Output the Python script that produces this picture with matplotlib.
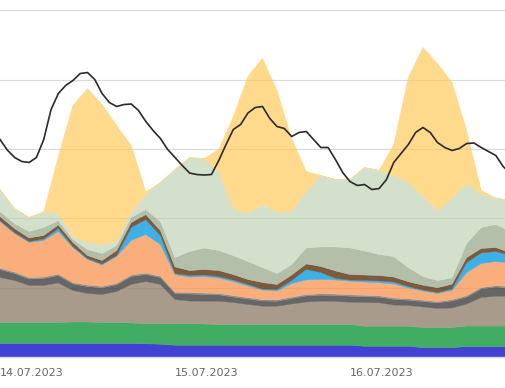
import numpy as np
import matplotlib
matplotlib.use('Agg')
import matplotlib.pyplot as plt

# Stromerzeugung 14.07.-16.07.2023, GW, 2-Stunden-Raster (Stunden ab 14.07. 00:00)
hours = np.arange(0, 72, 2)
hours_load = np.arange(0, 71)

wasserkraft = [1.95, 1.95, 1.95, 1.95, 1.95, 1.95, 1.95, 1.95, 1.95, 1.95, 1.9, 1.85,
               1.7, 1.7, 1.7, 1.7, 1.7, 1.7, 1.7, 1.7, 1.7, 1.7, 1.7, 1.7,
               1.7, 1.55, 1.55, 1.55, 1.55, 1.35, 1.35, 1.35, 1.5, 1.5, 1.5, 1.5]
biomasse = [3.03, 3.03, 3.03, 3.03, 3.03, 3.1, 3.1, 3.03, 3.03, 2.96, 2.93, 2.98,
            3.13, 3.13, 3.06, 2.99, 2.99, 2.99, 2.99, 2.99, 2.99, 2.99, 2.99, 2.99,
            2.99, 2.89, 2.89, 2.89, 2.89, 2.91, 2.91, 2.91, 2.97, 2.97, 2.97, 2.97]
braunkohle = [6.49, 6.06, 5.34, 5.34, 5.70, 4.55, 4.11, 4.04, 4.47, 5.56, 6.06, 5.63,
              3.46, 3.25, 3.29, 3.36, 3.17, 2.89, 2.64, 2.64, 2.96, 3.25, 3.36, 3.32,
              3.22, 3.42, 3.38, 3.06, 2.99, 2.96, 2.74, 2.81, 3.17, 4.11, 4.30, 4.30]
steinkohle = [1.15, 1.01, 0.94, 1.01, 1.08, 0.94, 1.01, 0.97, 0.97, 1.15, 1.01, 1.01,
              0.87, 1.01, 0.97, 0.92, 0.79, 0.79, 0.75, 0.72, 0.79, 0.87, 0.87, 0.87,
              0.87, 0.84, 0.81, 0.82, 0.76, 0.79, 0.79, 1.01, 1.01, 1.23, 1.33, 1.18]
oel = [0.2] * 36
erdgas = [6.73, 5.57, 5.07, 5.28, 6.15, 5.07, 3.70, 3.09, 3.88, 4.99, 5.57, 4.56,
          2.54, 2.25, 2.40, 2.22, 2.04, 1.68, 1.39, 1.27, 1.96, 2.11, 2.07, 2.04,
          1.96, 1.92, 1.88, 2.01, 1.59, 1.32, 1.17, 1.32, 3.34, 3.48, 3.48, 3.41]
pumpspeicher = [0.14, 0.14, 0.14, 0.22, 0.43, 0.14, 0.14, 0.14, 0.14, 1.88, 2.16, 1.30,
                0.14, 0.22, 0.22, 0.22, 0.22, 0.22, 0.14, 0.22, 0.43, 1.52, 1.01, 0.22,
                0.17, 0.22, 0.26, 0.29, 0.19, 0.14, 0.14, 0.22, 1.44, 1.52, 1.44, 1.08]
sonstige = [0.58, 0.58, 0.51, 0.51, 0.51, 0.58, 0.43, 0.51, 0.72, 0.72, 0.72, 0.72,
            0.96, 0.72, 0.79, 0.87, 0.79, 0.72, 0.94, 0.72, 0.80, 0.79, 0.87, 1.08,
            0.79, 0.79, 0.79, 0.72, 0.70, 0.70, 0.70, 0.70, 0.72, 0.65, 0.58, 0.40]
wind_offshore = [0.72, 0.72, 0.94, 1.15, 0.65, 0.43, 0.87, 1.01, 0.72, 0.72, 0.72, 1.30,
                 1.35, 2.74, 3.10, 2.89, 2.74, 2.60, 2.16, 1.59, 1.51, 2.31, 2.81, 3.46,
                 3.85, 3.46, 3.03, 2.96, 2.04, 1.25, 1.03, 0.89, 2.02, 3.03, 3.32, 3.06]
wind_onshore = [3.17, 2.16, 2.02, 2.16, 1.01, 0.43, 1.01, 1.23, 0.58, 0.72, 2.16, 5.63,
                12.70, 13.56, 12.91, 11.40, 6.78, 6.93, 9.09, 8.80, 7.65, 8.15, 10.32, 9.74,
                9.86, 12.05, 12.12, 11.69, 12.27, 11.54, 10.10, 11.47, 8.66, 4.76, 3.82, 4.47]
solar = [0, 0, 0, 0.14, 8.23, 18.90, 22.22, 20.27, 16.74, 9.67, 0.43, 0,
         0, 0, 0, 3.17, 13.28, 19.77, 21.14, 17.60, 10.53, 2.89, 0, 0,
         0, 0, 0, 4.47, 15.15, 21.50, 21.21, 16.74, 7.65, 0.58, 0, 0]

# Stromverbrauch, stündlich
verbrauch = [31.39, 29.87, 28.79, 28.21, 28.07, 28.79, 31.39, 35.71, 38.02, 39.18, 39.90, 40.91,
             41.05, 40.04, 38.02, 36.72, 36.15, 36.43, 36.51, 35.57, 33.98, 32.68, 31.53, 29.94,
             28.79, 27.63, 26.55, 26.33, 26.26, 26.33, 28.35, 30.66, 32.83, 33.55, 35.21, 36.00,
             36.15, 34.42, 33.26, 32.97, 31.82, 32.40, 32.54, 31.39, 30.23, 30.23, 28.50, 26.62,
             25.32, 24.75, 24.89, 24.17, 24.31, 25.61, 28.07, 29.37, 30.66, 32.40, 33.12, 32.40,
             30.95, 30.23, 29.80, 30.09, 30.81, 30.88, 30.23, 29.65, 29.08, 27.49, 26.48]

day_ticks = [0, 24, 48]
day_labels = ['14.07.2023', '15.07.2023', '16.07.2023']
grid_vals = [10, 20, 30, 40, 50]

layers = [wasserkraft, biomasse, braunkohle, steinkohle, oel, erdgas, pumpspeicher,
          sonstige, wind_offshore, wind_onshore, solar]
colors = ['#4141d2', '#40ad63', '#a99b8b', '#666666', '#8e8e8e', '#f9ae7b', '#3fb0e6',
          '#7b5b3f', '#b4bfaa', '#d3e0cb', '#ffd98c']

fig = plt.figure(figsize=(5.06, 3.88), dpi=100)
ax = fig.add_axes([0, 31 / 388, 1, 357 / 388])

# Gitter hinter den Flächen, dazu ein ganz schwacher Strich darüber
ax.set_yticks(grid_vals)
ax.yaxis.grid(True, color='#e6e6e6', linewidth=0.8)
ax.set_axisbelow(True)
for g in grid_vals:
    ax.axhline(g, color='black', alpha=0.05, linewidth=0.8, zorder=3)

polys = ax.stackplot(hours, *layers, colors=colors, linewidth=0, zorder=2)
for p, c in zip(polys, colors):
    p.set_edgecolor(c)
    p.set_linewidth(0.3)

ax.plot(hours_load, verbrauch, color='#2a2a2a', linewidth=1.2, zorder=4)

ax.set_xlim(0, 506 / (175 / 24))
ax.set_ylim(0, 357 / 6.93)
ax.tick_params(axis='y', left=False, labelleft=False)

ax.set_xticks(day_ticks)
ax.set_xticklabels(day_labels, ha='left', color='#666666', fontsize=8)
ax.tick_params(axis='x', length=0, pad=8)

for s in ['top', 'left', 'right']:
    ax.spines[s].set_visible(False)
ax.spines['bottom'].set_color('#ccd6eb')
ax.spines['bottom'].set_linewidth(1)

fig.savefig('out.png', dpi=100)
